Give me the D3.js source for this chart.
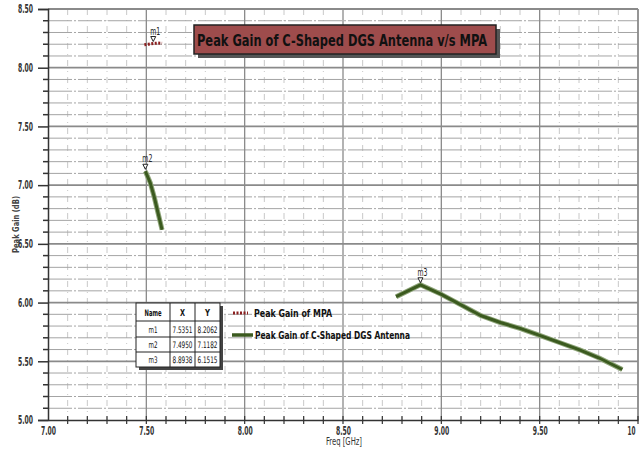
<!DOCTYPE html>
<html><head><meta charset="utf-8">
<script src="https://cdn.jsdelivr.net/npm/d3@7"></script>
<style>
html,body{margin:0;padding:0;background:#fff;}
svg{display:block;}
</style></head>
<body>
<svg id="chart" width="643" height="450"></svg>
<script>
// ---- data ----
const xTicks = [7.00, 7.50, 8.00, 8.50, 9.00, 9.50, 10.00];
const xTickLabels = ["7.00", "7.50", "8.00", "8.50", "9.00", "9.50", "10"];
const yTicks = [5.00, 5.50, 6.00, 6.50, 7.00, 7.50, 8.00, 8.50];
const yTickLabels = ["5.00", "5.50", "6.00", "6.50", "7.00", "7.50", "8.00", "8.50"];

const mpaFreq = [7.49, 7.51, 7.5351, 7.56, 7.58];
const mpaGain = [8.195, 8.200, 8.2062, 8.210, 8.208];

const dgsFreq = [7.4950, 7.52, 7.54, 7.56, 7.58, 8.20, 8.77, 8.8938, 9.00, 9.10, 9.20, 9.30, 9.40, 9.50, 9.60, 9.70, 9.80, 9.92];
const dgsGain = [7.1182, 7.02, 6.90, 6.76, 6.62, null, 6.05, 6.1515, 6.07, 5.98, 5.89, 5.83, 5.78, 5.72, 5.66, 5.60, 5.53, 5.43];

const markerNames = ["m1", "m2", "m3"];
const markerX = [7.5351, 7.4950, 8.8938];
const markerY = [8.2062, 7.1182, 6.1515];

const seriesNames = ["Peak Gain of MPA", "Peak Gain of C-Shaped DGS Antenna"];
const titleText = "Peak Gain of C-Shaped DGS Antenna v/s MPA";

// ---- layout ----
const svg = d3.select("#chart");
const L = 48, R = 638, T = 9, B = 420;
const x = d3.scaleLinear().domain([7, 10]).range([L, R]);
const y = d3.scaleLinear().domain([5, 8.5]).range([B, T]);
const FONT = "'Liberation Sans Narrow','Arial Narrow','DejaVu Sans Condensed','Liberation Sans',sans-serif";
const fit = (sel, w) => sel.attr("textLength", w).attr("lengthAdjust", "spacingAndGlyphs");
// horizontally squeeze a text (drawn at origin) into width w, placed with its left edge at (tx, ty)
const squeeze = (parent, txt, tx, ty, w, size, weight) => {
  const t = parent.append("text").attr("font-family", FONT).attr("font-size", size)
    .attr("font-weight", weight).attr("fill", "#111").text(txt);
  const n = t.node().getComputedTextLength();
  t.attr("transform", `translate(${tx},${ty}) scale(${Math.min(1, w / n)},1)`);
  return t;
};

// minor grid
const minorX = d3.range(7.1, 10, 0.1).map(v => +v.toFixed(2)).filter(v => Math.abs(v*2 - Math.round(v*2)) > 1e-6);
const minorY = d3.range(5.1, 8.5, 0.1).map(v => +v.toFixed(2)).filter(v => Math.abs(v*2 - Math.round(v*2)) > 1e-6);
const g = svg.append("g");
g.selectAll("line.mx").data(minorX).join("line")
  .attr("x1", d => x(d)).attr("x2", d => x(d)).attr("y1", T).attr("y2", B)
  .attr("stroke", "#c8c8c8").attr("stroke-width", 1).attr("stroke-dasharray", "6,5,1,5");
g.selectAll("line.my").data(minorY).join("line")
  .attr("x1", L).attr("x2", R).attr("y1", d => y(d)).attr("y2", d => y(d))
  .attr("stroke", "#a4a4a4").attr("stroke-width", 1).attr("stroke-dasharray", "24,2,2,2");
// major grid
g.selectAll("line.Mx").data(xTicks.slice(1, -1)).join("line")
  .attr("x1", d => x(d)).attr("x2", d => x(d)).attr("y1", T).attr("y2", B)
  .attr("stroke", "#8a8a8a").attr("stroke-width", 1.3);
g.selectAll("line.My").data(yTicks.slice(1)).join("line")
  .attr("x1", L).attr("x2", R).attr("y1", d => y(d)).attr("y2", d => y(d))
  .attr("stroke", "#8a8a8a").attr("stroke-width", 1.8);
// right border
g.append("line").attr("x1", R).attr("x2", R).attr("y1", T).attr("y2", B)
  .attr("stroke", "#8a8a8a").attr("stroke-width", 1.8);

// axes
const yAxis = d3.axisLeft(y).tickValues(yTicks).tickFormat((d, i) => yTickLabels[i]).tickSize(10).tickPadding(5);
const ya = svg.append("g").attr("transform", `translate(${L},0)`).call(yAxis);
const xAxis = d3.axisBottom(x).tickValues(xTicks).tickFormat((d, i) => xTickLabels[i]).tickSize(0).tickPadding(6);
const xa = svg.append("g").attr("transform", `translate(0,${B})`).call(xAxis);
[ya, xa].forEach(a => {
  a.select(".domain").attr("stroke", "#333").attr("stroke-width", 1.5);
  a.selectAll(".tick line").attr("stroke", "#333").attr("stroke-width", 1.5);
  a.selectAll("text").attr("font-family", FONT).attr("font-size", 12).attr("font-weight", "bold").attr("fill", "#333");
  a.selectAll("text").each(function() {
    const t = d3.select(this);
    fit(t, t.text().length > 2 ? 15 : 8);
  });
});
xa.selectAll(".tick text").filter((d, i) => i === xTicks.length - 1).attr("text-anchor", "start").attr("x", -11);
// minor ticks
svg.append("g").selectAll("line").data(minorY).join("line")
  .attr("x1", L - 5).attr("x2", L).attr("y1", d => y(d)).attr("y2", d => y(d))
  .attr("stroke", "#333").attr("stroke-width", 1.5);
svg.append("g").selectAll("line").data(minorX.concat(xTicks.slice(1))).join("line")
  .attr("x1", d => x(d)).attr("x2", d => x(d)).attr("y1", B - 4).attr("y2", B + 4)
  .attr("stroke", "#333").attr("stroke-width", 1.2);

// axis titles
fit(svg.append("text").attr("x", 326).attr("y", 445)
  .attr("font-family", FONT).attr("font-size", 10).attr("fill", "#333").text("Freq [GHz]"), 36);
fit(svg.append("text").attr("transform", `translate(19,${253}) rotate(-90)`)
  .attr("font-family", FONT).attr("font-size", 9.5).attr("font-weight", "bold").attr("fill", "#444").text("Peak Gain (dB)"), 57);

// series
const mpaData = mpaFreq.map((f, i) => ({f, g: mpaGain[i]}));
const dgsData = dgsFreq.map((f, i) => ({f, g: dgsGain[i]}));
const line = d3.line().defined(d => d.g !== null).x(d => x(d.f)).y(d => y(d.g));
svg.append("path").datum(dgsData).attr("d", line).attr("fill", "none")
  .attr("stroke", "#8fa57a").attr("stroke-width", 5).attr("stroke-linejoin", "round");
svg.append("path").datum(dgsData).attr("d", line).attr("fill", "none")
  .attr("stroke", "#3b5a1f").attr("stroke-width", 3).attr("stroke-linejoin", "round");
svg.append("path").datum(mpaData).attr("d", line).attr("fill", "none")
  .attr("stroke", "#8b1e1e").attr("stroke-width", 3).attr("stroke-dasharray", "2,1.5");

// markers
const mk = svg.append("g");
markerNames.forEach((n, i) => {
  const px = x(markerX[i]), py = y(markerY[i]);
  mk.append("path").attr("d", `M${px-2.5},${py-7}L${px+2.5},${py-7}L${px},${py-2}Z`)
    .attr("fill", "#fff").attr("stroke", "#222").attr("stroke-width", 1);
  fit(mk.append("text").attr("x", px - 3).attr("y", py - 9)
    .attr("font-family", FONT).attr("font-size", 10).attr("fill", "#222").text(n), 10);
});

// title box
const tb = svg.append("g");
tb.append("rect").attr("x", 198).attr("y", 29).attr("width", 302).attr("height", 29).attr("fill", "#555");
tb.append("rect").attr("x", 194).attr("y", 25).attr("width", 302).attr("height", 29)
  .attr("fill", "#9e4c4c").attr("stroke", "#222").attr("stroke-width", 1.5);
fit(tb.append("text").attr("x", 197).attr("y", 46)
  .attr("font-family", FONT).attr("font-size", 16.5).attr("font-weight", "bold").attr("fill", "#111").text(titleText), 290);

// marker table
const tbl = svg.append("g");
const colX = [136, 170, 195, 220];
const rowY = [303, 321, 337, 352, 367];
tbl.append("rect").attr("x", colX[0] + 3).attr("y", rowY[0] + 3).attr("width", colX[3] - colX[0]).attr("height", rowY[4] - rowY[0]).attr("fill", "#444");
tbl.append("rect").attr("x", colX[0]).attr("y", rowY[0]).attr("width", colX[3] - colX[0]).attr("height", rowY[4] - rowY[0])
  .attr("fill", "#fff").attr("stroke", "#222").attr("stroke-width", 1);
colX.slice(1, 3).forEach(cx => tbl.append("line").attr("x1", cx).attr("x2", cx).attr("y1", rowY[0]).attr("y2", rowY[4]).attr("stroke", "#222"));
rowY.slice(1, 4).forEach(ry => tbl.append("line").attr("x1", colX[0]).attr("x2", colX[3]).attr("y1", ry).attr("y2", ry).attr("stroke", "#222"));
const rows = [["Name", "X", "Y"]].concat(markerNames.map((n, i) => [n, markerX[i].toFixed(4), markerY[i].toFixed(4)]));
rows.forEach((r, ri) => r.forEach((c, ci) => {
  const w = c.length >= 6 ? 20 : c.length === 4 ? 17 : c.length === 2 ? 9 : 5;
  squeeze(tbl, c, (colX[ci] + colX[ci+1]) / 2 - w / 2, (rowY[ri] + rowY[ri+1]) / 2 + 3.5, w, 9, ri === 0 ? "bold" : "normal");
}));

// legend
const lg = svg.append("g");
lg.append("line").attr("x1", 233).attr("x2", 248).attr("y1", 313).attr("y2", 313)
  .attr("stroke", "#8b1e1e").attr("stroke-width", 3).attr("stroke-dasharray", "2,1.5");
fit(lg.append("text").attr("x", 254).attr("y", 317).attr("font-family", FONT).attr("font-size", 11).attr("font-weight", "bold").attr("fill", "#111").text(seriesNames[0]), 78);
lg.append("line").attr("x1", 232).attr("x2", 253).attr("y1", 335).attr("y2", 335)
  .attr("stroke", "#3b5a1f").attr("stroke-width", 3.5);
fit(lg.append("text").attr("x", 255).attr("y", 339).attr("font-family", FONT).attr("font-size", 11).attr("font-weight", "bold").attr("fill", "#111").text(seriesNames[1]), 155);
</script>
</body></html>
